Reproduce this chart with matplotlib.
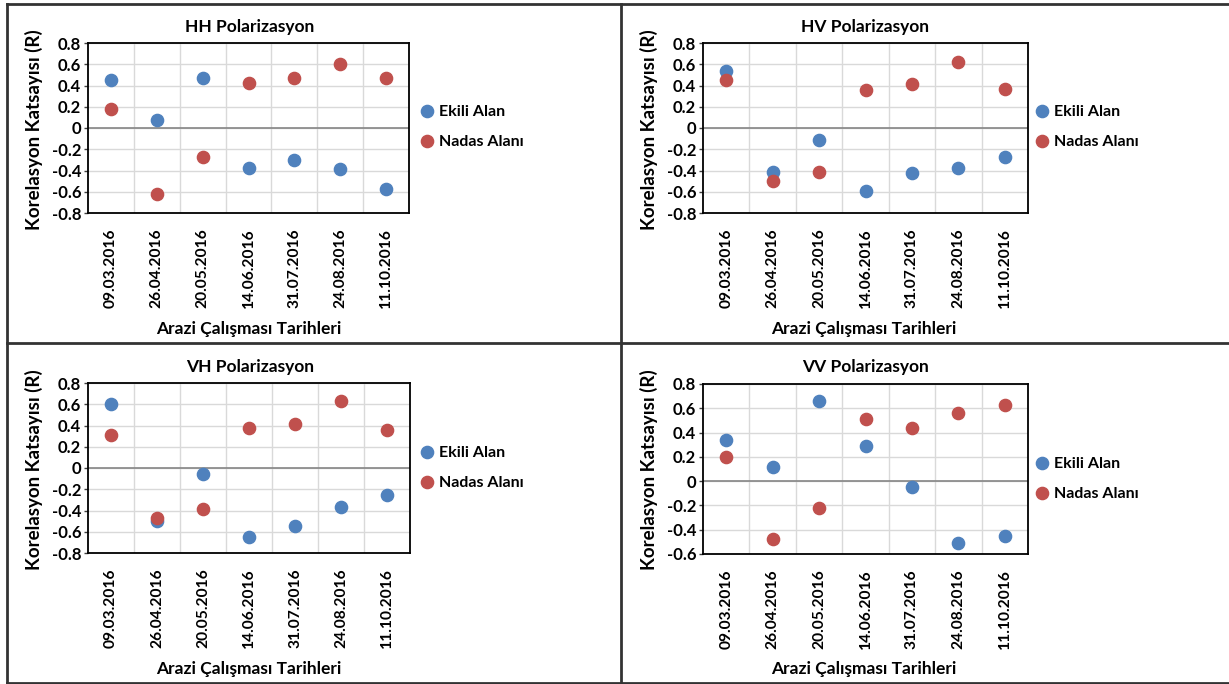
import matplotlib.pyplot as plt
from matplotlib.lines import Line2D

plt.rcParams['font.family'] = ['Lato', 'DejaVu Sans']
plt.rcParams['font.weight'] = 'bold'

dates = ['09.03.2016', '26.04.2016', '20.05.2016', '14.06.2016',
         '31.07.2016', '24.08.2016', '11.10.2016']

hh_ekili = [0.45, 0.08, 0.47, -0.38, -0.30, -0.39, -0.57]
hh_nadas = [0.18, -0.62, -0.27, 0.42, 0.47, 0.60, 0.47]
hv_ekili = [0.54, -0.41, -0.11, -0.59, -0.42, -0.38, -0.27]
hv_nadas = [0.45, -0.50, -0.41, 0.36, 0.41, 0.62, 0.37]
vh_ekili = [0.60, -0.50, -0.06, -0.65, -0.55, -0.37, -0.25]
vh_nadas = [0.31, -0.47, -0.39, 0.38, 0.41, 0.63, 0.36]
vv_ekili = [0.34, 0.12, 0.66, 0.29, -0.05, -0.51, -0.45]
vv_nadas = [0.20, -0.48, -0.22, 0.51, 0.44, 0.56, 0.63]

titles = ['HH Polarizasyon', 'HV Polarizasyon', 'VH Polarizasyon', 'VV Polarizasyon']
series = [(hh_ekili, hh_nadas), (hv_ekili, hv_nadas),
          (vh_ekili, vh_nadas), (vv_ekili, vv_nadas)]
ylims = [(-0.8, 0.8), (-0.8, 0.8), (-0.8, 0.8), (-0.6, 0.8)]

BLUE = '#4F81BD'
RED = '#C0504D'

W, H = 1229, 684
fig = plt.figure(figsize=(W / 100, H / 100), dpi=100)

# panel axes rectangles in pixels (left, top, right, bottom)
boxes = [(88, 43, 409, 213), (703, 43, 1028, 213),
         (88, 383, 410, 553), (703, 384, 1028, 554)]
offsets = [(0, 0), (615, 0), (0, 340), (615, 340)]
legend_y = [111, 111, 112, 123]

for i, (l, t, r, b) in enumerate(boxes):
    ax = fig.add_axes([l / W, 1 - b / H, (r - l) / W, (b - t) / H])
    ekili, nadas = series[i]
    x = range(len(dates))
    p1, = ax.plot(x, ekili, 'o', color=BLUE, ms=8.8, label='Ekili Alan', zorder=3)
    p2, = ax.plot(x, nadas, 'o', color=RED, ms=8.8, label='Nadas Alanı', zorder=3)
    ax.set_xlim(-0.5, len(dates) - 0.5)
    lo, hi = ylims[i]
    ax.set_ylim(lo, hi)
    ticks = [round(lo + 0.2 * k, 1) for k in range(int(round((hi - lo) / 0.2)) + 1)]
    ax.set_yticks(ticks)
    ax.set_yticklabels(['0' if v == 0 else f'{v:.1f}' for v in ticks], fontsize=12)
    ax.set_xticks(list(x))
    ax.set_xticklabels(dates, rotation=90, fontsize=11.2)
    ax.set_xticks([k + 0.5 for k in range(len(dates) - 1)], minor=True)
    ax.tick_params(axis='x', which='both', length=0, pad=11)
    ax.tick_params(axis='y', length=3, width=1, color='#404040', pad=2)
    ax.grid(True, axis='y', color='#D9D9D9', lw=1)
    ax.grid(True, axis='x', which='minor', color='#D9D9D9', lw=1)
    ax.axhline(0, color='#868686', lw=1.2, zorder=2)
    for s in ax.spines.values():
        s.set_color('#000000')
        s.set_linewidth(1.3)
    ax.set_axisbelow(True)

    ox, oy = offsets[i]
    fig.text((ox + 250) / W, 1 - (oy + 27) / H, titles[i], ha='center', va='center',
             fontsize=12.5, fontweight='bold')
    fig.text((ox + 249) / W, 1 - (oy + 329) / H, 'Arazi Çalışması Tarihleri', ha='center',
             va='center', fontsize=12.5, fontweight='bold')
    fig.text((ox + 34) / W, 1 - (oy + 130) / H, 'Korelasyon Katsayısı (R)', ha='center',
             va='center', rotation=90, fontsize=13.5, fontweight='bold')
    fig.legend(handles=[p1, p2], loc='upper left',
               bbox_to_anchor=((ox + 417) / W, 1 - (oy + legend_y[i] - 6) / H),
               frameon=False, fontsize=11.5, handletextpad=0.15, handlelength=1.2,
               labelspacing=1.0, borderaxespad=0, borderpad=0)

# panel frame lines
for xs, ys in [([7, 7], [4, 683]), ([7, W], [4, 4]), ([7, W], [683, 683]),
               ([621, 621], [4, 683]), ([7, W], [343.5, 343.5])]:
    fig.add_artist(Line2D([v / W for v in xs], [1 - v / H for v in ys],
                          color='#333333', lw=2))

fig.savefig('out.png', dpi=100)
